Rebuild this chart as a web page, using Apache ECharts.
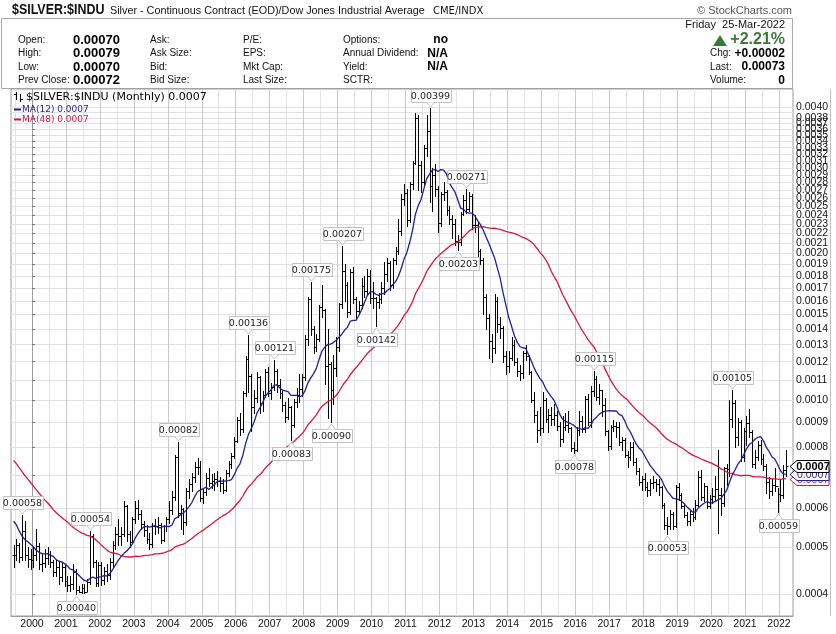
<!DOCTYPE html>
<html><head><meta charset="utf-8">
<script src="https://cdn.jsdelivr.net/npm/echarts@6/dist/echarts.min.js"></script>
<style>html,body{margin:0;padding:0;background:#fff}#c{width:836px;height:634px}</style>
</head><body><div id="c"></div>
<script>
// ---------------- DATA (ratio values in units of 0.00001) ----------------
// month index 0 = Jan 2000; first plotted bar = Jun 1999 (index -7)
const startIndex = -7;
// closes before the first plotted bar (Jul 1995 .. May 1999), only used for the moving averages
const priorCloses = [
  107, 117, 114, 111, 103, 101,
  104, 101, 98, 96, 95, 89, 92, 93, 84, 80, 74, 74,
  69, 76, 76, 67, 65, 61, 53, 59, 62, 64, 66, 75,
  77, 73, 72, 68, 58, 60, 62, 67, 69, 58, 54, 54,
  55, 60, 52, 50, 48
];
const firstOpen = 48.0;
const closes = [
  48.0, 50.5, 47.6, 54.0, 48.0, 47.2, 47.0,
  48.0, 50.1, 46.2, 46.4, 47.5, 48.3, 46.6, 44.3, 45.5, 43.3, 45.4, 42.6,
  41.8, 41.9, 44.3, 40.8, 40.3, 41.1, 40.4, 42.4, 52.6, 46.5, 42.1, 45.9,
  42.8, 44.5, 43.7, 46.5, 50.4, 53.0, 52.6, 53.1, 60.6, 53.0, 51.1, 56.9,
  60.2, 58.3, 55.7, 54.2, 52.0, 50.6, 55.2, 55.2, 55.5, 51.7, 55.2, 56.9,
  59.6, 63.3, 76.3, 58.7, 59.9, 56.1, 65.1, 67.3, 69.4, 72.8, 72.9, 63.1,
  64.8, 69.2, 67.6, 68.2, 68.8, 68.1, 67.7, 65.3, 71.0, 73.8, 76.8, 82.6,
  91.1, 87.3, 103.5, 121.4, 111.9, 96.9, 101.0, 111.6, 98.5, 102.6, 114.5, 103.5,
  106.2, 114.9, 107.7, 103.3, 97.6, 92.5, 96.9, 89.1, 99.3, 102.7, 105.4, 111.6,
  133.6, 161.4, 140.3, 128.7, 133.7, 155.1, 152.9, 117.8, 118.9, 105.1, 116.7, 128.8,
  157.5, 184.1, 172.2, 151.8, 183.5, 161.0, 152.6, 156.9, 171.9, 167.8, 179.8, 162.1,
  161.9, 158.8, 161.2, 169.9, 181.5, 191.3, 172.0, 193.7, 202.1, 222.2, 259.0, 266.9,
  234.6, 277.3, 307.6, 379.4, 304.7, 280.3, 330.2, 357.3, 275.8, 289.4, 271.5, 230.8,
  265.2, 267.1, 246.0, 235.4, 230.0, 212.7, 211.4, 241.4, 257.5, 246.6, 262.5, 228.9,
  229.4, 202.1, 194.1, 163.1, 147.5, 132.1, 127.7, 160.0, 143.4, 140.9, 123.1, 117.6,
  122.3, 129.9, 119.7, 114.6, 113.7, 124.8, 123.2, 114.0, 100.3, 93.2, 86.9, 87.5,
  100.2, 91.5, 93.4, 91.4, 93.3, 88.5, 83.1, 88.3, 89.0, 87.7, 79.6, 79.2,
  86.8, 90.8, 87.1, 100.7, 90.0, 104.3, 110.7, 101.6, 104.9, 97.6, 86.3, 80.5,
  88.1, 88.4, 88.1, 82.1, 82.8, 77.3, 76.3, 80.2, 74.5, 71.4, 68.0, 68.8,
  66.2, 65.5, 67.6, 67.9, 67.2, 66.3, 61.0, 55.5, 55.2, 58.5, 55.2, 66.4,
  64.0, 60.6, 58.2, 56.4, 58.4, 57.5, 61.0, 69.7, 63.2, 66.6, 60.6, 62.7,
  63.7, 65.7, 63.9, 61.6, 72.5, 72.1, 91.6, 98.5, 84.2, 90.2, 76.3, 86.3,
  89.7, 86.0, 74.0, 76.5, 80.8, 75.6, 73.3, 67.9, 65.0, 67.0, 66.7, 64.1,
  63.8, 72.0, 73.1
];
const highs = [
  50.5, 52, 51, 58, 56.5, 50, 49.5,
  50, 54.5, 51, 48.5, 49.5, 50, 49, 47, 47, 46.5, 46.5, 46,
  43.5, 43.5, 46, 45, 41.5, 42, 42, 43, 54, 53, 47, 46.5,
  46.5, 45.5, 46, 47.5, 51.5, 55, 57, 55, 62, 61, 54, 57.5,
  62, 62.5, 59.5, 56.5, 55.5, 53.5, 56, 57, 57.5, 56, 55.5, 57.5,
  62, 65, 77, 82, 61, 60, 66, 69, 71, 74.5, 76, 75,
  66, 71, 72.5, 70.5, 71, 71.5, 69.5, 69, 72, 75, 78, 84,
  92.5, 94, 104.5, 123, 136, 113, 105, 114, 112, 104.5, 116, 117,
  108.5, 121, 116, 110.5, 104.5, 99, 101, 97.5, 100.5, 106, 113, 113,
  136, 163, 175, 142, 137, 157, 172, 154, 140, 120, 124, 135,
  158, 207, 190, 175, 186, 188, 163, 160, 178, 180, 186, 185,
  175, 163, 166, 175, 192, 196, 193, 196, 206, 235, 265, 278,
  272, 280, 310, 388, 385, 310, 334, 385, 399, 300, 305, 275,
  268, 280, 270, 250, 240, 235, 218, 243, 264, 271, 268, 265,
  240, 232, 204, 196, 165, 150, 137, 165, 163, 148, 142, 126,
  126, 135, 133, 122, 118, 126, 130, 124, 115, 104, 95, 97,
  104, 101, 96, 97, 98, 95, 90, 93, 94, 95, 88, 82,
  88, 95, 93, 102, 103, 107, 115, 112, 108, 105, 101, 87,
  89, 91, 90, 90, 84, 83.5, 78.5, 82, 82, 76, 72.5, 70,
  71, 68, 69, 70, 69, 69, 66.5, 61.5, 57.5, 59.5, 59, 67,
  67.5, 64.5, 61.5, 59, 59.5, 60, 62.5, 71.5, 72, 67.5, 66.8, 64,
  66, 70, 79, 66, 73, 74, 100, 105, 100, 92, 91, 87.5,
  93, 96, 87, 79, 82.5, 83, 77.5, 74, 69.5, 69, 72.5, 66,
  69, 73.5, 79
];
const lows = [
  45.5, 47, 46.5, 47, 47, 45.5, 45,
  45.5, 47, 45, 44.5, 45.5, 46, 45.5, 43.5, 43.5, 42, 42.5, 41.5,
  40.5, 40.5, 41, 40.0, 40.3, 40.2, 40.1, 40.5, 42, 45.5, 41.5, 41.5,
  41.8, 42, 42.5, 43, 45.5, 49.5, 50.5, 50.5, 52.5, 51.5, 50, 51,
  56, 57, 54.5, 52.5, 51, 49.5, 50, 53, 53.5, 51, 51.5, 54,
  56, 58.5, 62.5, 57.5, 54.5, 53, 55.5, 63, 65, 68, 70.5, 62,
  61.5, 64, 66.5, 66, 65.5, 66.5, 65, 64.5, 65, 70, 72.5, 76,
  82, 85, 86, 102, 104, 86.5, 94, 99, 94, 95, 101.5, 102,
  100.5, 105, 104, 101, 95, 90, 91.5, 83, 88, 97, 99, 102,
  110, 130, 136, 125, 126, 132, 148, 108, 92, 90, 98, 112,
  126, 155, 160, 148, 150, 158, 147, 150, 155, 163, 165, 158,
  155, 142, 155, 158, 165, 176, 168, 170, 190, 200, 218, 252,
  228, 232, 272, 305, 270, 268, 276, 318, 255, 245, 262, 222,
  228, 258, 240, 230, 215, 208, 203, 208, 240, 242, 245, 225,
  222, 198, 190, 150, 140, 122, 120, 125, 138, 134, 120, 113,
  114, 121, 118, 112, 110, 111, 121, 113, 99, 90, 82, 85,
  86, 90, 86, 89, 89, 87, 80.5, 82, 87, 86, 78.5, 78,
  78.5, 85, 86, 86, 89, 88, 102, 100, 98, 93, 85, 79,
  79.5, 86.5, 84, 81, 79, 76.5, 73, 75.5, 73.5, 70.5, 67, 65.5,
  65.5, 63.5, 64, 66, 65, 64, 60, 54.5, 53, 54.5, 54.5, 55,
  62.5, 60, 57.5, 55.5, 55.5, 56.5, 57, 60.5, 62.5, 62, 60, 60,
  61.5, 62, 53.5, 58, 60.5, 67, 70, 88, 80, 81, 75, 75,
  81, 84, 73, 72.5, 75.5, 74, 72, 64.5, 63, 64, 65, 59,
  62, 63, 70
];
// labelled swing points: [month index, +1 = high label above, -1 = low label below]
const annotations = [
  [-4, 1], [15, -1], [20, 1], [51, 1], [76, 1], [85, 1], [91, -1], [98, 1], [105, -1],
  [109, 1], [121, -1], [140, 1], [150, -1], [153, 1], [191, -1], [198, 1], [224, -1],
  [247, 1], [263, -1]
];
const yTicks = [0.0004, 0.0005, 0.0006, 0.0007, 0.0008, 0.0009, 0.0010, 0.0011, 0.0012,
  0.0013, 0.0014, 0.0015, 0.0016, 0.0017, 0.0018, 0.0019, 0.0020, 0.0021, 0.0022, 0.0023,
  0.0024, 0.0025, 0.0026, 0.0027, 0.0028, 0.0029, 0.0030, 0.0031, 0.0032, 0.0033, 0.0034,
  0.0035, 0.0036, 0.0037, 0.0038, 0.0039, 0.0040];
const yearLabels = [2000, 2001, 2002, 2003, 2004, 2005, 2006, 2007, 2008, 2009, 2010, 2011,
  2012, 2013, 2014, 2015, 2016, 2017, 2018, 2019, 2020, 2021, 2022];
const quoteLeft = [['Open:', '0.00070'], ['High:', '0.00079'], ['Low:', '0.00070'], ['Prev Close:', '0.00072']];
const quoteCol2 = ['Ask:', 'Ask Size:', 'Bid:', 'Bid Size:'];
const quoteCol3 = ['P/E:', 'EPS:', 'Mkt Cap:', 'Last Size:'];
const quoteCol4 = [['Options:', 'no'], ['Annual Dividend:', 'N/A'], ['Yield:', 'N/A'], ['SCTR:', '']];
const quoteRight = [['Chg:', '+0.00002'], ['Last:', '0.00073'], ['Volume:', '0']];
const quoteDate = 'Friday  25-Mar-2022';
const quoteChange = '+2.21%';
const legendValue = '0.0007';

// ---------------- BUILD ----------------
const S = 1e-5;
const xs = closes.map((_, i) => startIndex + i + 0.5);
const opens = closes.map((c, i) => i === 0 ? firstOpen : closes[i - 1]);
const ohlc = closes.map((c, i) => [xs[i], opens[i] * S, highs[i] * S, lows[i] * S, c * S]);
const allCloses = priorCloses.concat(closes);
function movingAvg(n) {
  return closes.map((_, i) => {
    const end = i + priorCloses.length;
    let s = 0;
    for (let k = end - n + 1; k <= end; k++) s += allCloses[k];
    return [xs[i], s / n * S];
  });
}
const ma12 = movingAvg(12), ma48 = movingAvg(48);
const last = closes.length - 1;
const BLUE = '#1f1f9e', RED = '#dc143c', GREEN = '#3b7a34';
const SANS = '"Liberation Sans", Arial, sans-serif';
const DV = '"DejaVu Sans", Verdana, sans-serif';

const xTickVals = [];
yearLabels.forEach(y => { xTickVals.push((y - 2000) * 12 - 6); xTickVals.push((y - 2000) * 12); });
const xLabelVals = yearLabels.map(y => (y - 2000) * 12);

const annData = annotations.map(a => {
  const i = a[0] - startIndex;
  return [xs[i], (a[1] > 0 ? highs[i] : lows[i]) * S, a[1]];
});
const tagData = [
  [xs[last], ma48[last][1], 0],
  [xs[last], ma12[last][1], 1],
  [xs[last], closes[last] * S, 2]
];

function txt(x, y, text, font, fill, align) {
  return { type: 'text', x: x, y: y, silent: true,
    style: { text: text, font: font, fill: fill || '#000', align: align || 'left', textAlign: align || 'left',
      verticalAlign: 'middle', textVerticalAlign: 'middle' } };
}
const LBL = '10px ' + SANS;
const graphics = [];
// header box
graphics.push({ type: 'rect', shape: { x: 1.5, y: 18.5, width: 791, height: 70 }, style: { fill: '#fff', stroke: '#a8a8a8', lineWidth: 1 }, z: -1 });
graphics.push(Object.assign(txt(12, 10, '$SILVER:$INDU', 'bold 15px ' + SANS, '#111'), { scaleX: 0.83 }));
graphics.push(txt(110, 11, 'Silver - Continuous Contract (EOD)/Dow Jones Industrial Average', '10.8px ' + SANS, '#111'));
graphics.push(txt(433, 11, 'CME/INDX', '10px ' + DV, '#111'));
graphics.push(txt(792, 11, '\u00a9 StockCharts.com', '11px ' + SANS, '#555', 'right'));
const rowsY = [40, 53.5, 67, 80.5];
quoteLeft.forEach((q, r) => {
  graphics.push(txt(18, rowsY[r], q[0], LBL, '#111'));
  graphics.push(txt(120, rowsY[r], q[1], 'bold 13px ' + SANS, '#000', 'right'));
});
quoteCol2.forEach((q, r) => graphics.push(txt(150, rowsY[r], q, LBL, '#111')));
quoteCol3.forEach((q, r) => graphics.push(txt(243, rowsY[r], q, LBL, '#111')));
quoteCol4.forEach((q, r) => {
  graphics.push(txt(343, rowsY[r], q[0], LBL, '#111'));
  if (q[1]) graphics.push(txt(448, rowsY[r], q[1], 'bold 12px ' + SANS, '#000', 'right'));
});
graphics.push(txt(785, 25, quoteDate, '11px ' + SANS, '#111', 'right'));
graphics.push({ type: 'polygon', shape: { points: [[713, 46], [720, 35], [727, 46]] }, style: { fill: GREEN } });
graphics.push(txt(785, 40, quoteChange, 'bold 16px ' + SANS, GREEN, 'right'));
quoteRight.forEach((q, r) => {
  graphics.push(txt(710, rowsY[r + 1], q[0], LBL, '#111'));
  graphics.push(txt(785, rowsY[r + 1], q[1], 'bold 12px ' + SANS, '#000', 'right'));
});
// right frame of the price-label column
graphics.push({ type: 'line', shape: { x1: 830.5, y1: 89, x2: 830.5, y2: 616 }, style: { stroke: '#c0c0c0', lineWidth: 1 } });
// legend inside plot
graphics.push({ type: 'line', shape: { x1: 16.5, y1: 92, x2: 16.5, y2: 100 }, style: { stroke: '#000', lineWidth: 1 }, z: 20 });
graphics.push({ type: 'line', shape: { x1: 14, y1: 94.5, x2: 16.5, y2: 94.5 }, style: { stroke: '#000', lineWidth: 1 }, z: 20 });
graphics.push({ type: 'line', shape: { x1: 20.5, y1: 94, x2: 20.5, y2: 102 }, style: { stroke: '#000', lineWidth: 1 }, z: 20 });
graphics.push({ type: 'line', shape: { x1: 20.5, y1: 99.5, x2: 23, y2: 99.5 }, style: { stroke: '#000', lineWidth: 1 }, z: 20 });
graphics.push(Object.assign(txt(26, 97, '$SILVER:$INDU (Monthly) ' + legendValue, '11px ' + DV, '#000'), { z: 20 }));
graphics.push({ type: 'line', shape: { x1: 14, y1: 109.5, x2: 21, y2: 109.5 }, style: { stroke: BLUE, lineWidth: 2 }, z: 20 });
graphics.push(Object.assign(txt(22, 109.5, 'MA(12) ' + legendValue, '9px ' + DV, BLUE), { z: 20 }));
graphics.push({ type: 'line', shape: { x1: 14, y1: 119.5, x2: 21, y2: 119.5 }, style: { stroke: RED, lineWidth: 2 }, z: 20 });
graphics.push(Object.assign(txt(22, 119.5, 'MA(48) ' + legendValue, '9px ' + DV, RED), { z: 20 }));

const chart = echarts.init(document.getElementById('c'));
chart.setOption({
  animation: false,
  backgroundColor: '#fff',
  grid: { left: 11, right: 43, top: 89, bottom: 18, show: true, borderColor: '#9c9c9c', borderWidth: 1, backgroundColor: '#fff' },
  xAxis: {
    type: 'value', min: -7.42, max: 268.96,
    axisLine: { show: true, lineStyle: { color: '#9c9c9c' } },
    axisTick: { show: false, customValues: xTickVals },
    axisLabel: { customValues: xLabelVals, formatter: v => String(2000 + Math.round(v / 12)), color: '#111', fontSize: 10.5, fontFamily: SANS, margin: 3,
      showMinLabel: true, showMaxLabel: true },
    splitLine: { show: true, lineStyle: { color: ['#e4e4e4', '#c9c9c9'], width: 1 } }
  },
  yAxis: {
    type: 'log', logBase: 10, position: 'right', min: 0.0003605, max: 0.004355,
    axisLine: { show: true, lineStyle: { color: '#9c9c9c' } },
    axisTick: { show: true, customValues: yTicks, length: 3, lineStyle: { color: '#777' } },
    axisLabel: { customValues: yTicks, formatter: v => Number(v).toFixed(4), color: '#111', fontSize: 10.5, fontFamily: SANS, margin: 3,
      showMinLabel: true, showMaxLabel: true },
    splitLine: { show: true, lineStyle: { color: '#e2e2e2', width: 1 } }
  },
  graphic: { elements: graphics },
  series: [
    {
      type: 'custom', name: 'ohlc', data: ohlc, encode: { x: 0, y: [1, 2, 3, 4] },
      renderItem: function (params, api) {
        const x = api.value(0);
        const pH = api.coord([x, api.value(2)]), pL = api.coord([x, api.value(3)]);
        const pO = api.coord([x, api.value(1)]), pC = api.coord([x, api.value(4)]);
        const cx = Math.round(pH[0]) + 0.5;
        const yo = Math.round(pO[1]) + 0.5, yc = Math.round(pC[1]) + 0.5;
        const st = { stroke: '#000', lineWidth: 1 };
        return { type: 'group', children: [
          { type: 'line', shape: { x1: cx, y1: Math.round(pH[1]), x2: cx, y2: Math.round(pL[1]) + 1 }, style: st },
          { type: 'line', shape: { x1: cx - 2, y1: yo, x2: cx, y2: yo }, style: st },
          { type: 'line', shape: { x1: cx, y1: yc, x2: cx + 2, y2: yc }, style: st }
        ] };
      }
    },
    { type: 'line', name: 'MA(48)', data: ma48, symbol: 'none', lineStyle: { color: RED, width: 1.3 }, itemStyle: { color: RED }, z: 3 },
    { type: 'line', name: 'MA(12)', data: ma12, symbol: 'none', lineStyle: { color: BLUE, width: 1.3 }, itemStyle: { color: BLUE }, z: 4 },
    {
      type: 'custom', name: 'tags', data: tagData, z: 10, clip: false,
      renderItem: function (params, api) {
        const p = api.coord([api.value(0), api.value(1)]);
        const kind = api.value(2);
        const x0 = params.coordSys.x + params.coordSys.width;
        const y = Math.round(p[1]) + 0.5;
        const col = kind === 2 ? '#000' : (kind === 1 ? BLUE : RED);
        return { type: 'group', children: [
          { type: 'polygon', shape: { points: [[x0 - 3, y], [x0 + 4, y - 6], [x0 + 36, y - 6], [x0 + 36, y + 6], [x0 + 4, y + 6]] },
            style: { fill: '#fff', stroke: col, lineWidth: 1 } },
          { type: 'text', style: { text: legendValue, x: x0 + 20, y: y + 0.5, align: 'center', verticalAlign: 'middle',
            textAlign: 'center', textVerticalAlign: 'middle',
            font: (kind === 2 ? 'bold 11px ' : '10.5px ') + SANS, fill: col } }
        ] };
      }
    },
    {
      type: 'custom', name: 'labels', data: annData, z: 12, clip: false,
      renderItem: function (params, api) {
        const v = api.value(1);
        const p = api.coord([api.value(0), v]);
        const side = api.value(2);
        const w = 40, h = 13;
        const cx = Math.round(p[0]) + 0.5;
        let top, tipY, baseY;
        if (side > 0) { tipY = Math.round(p[1]) - 1; baseY = tipY - 5; top = baseY - h; }
        else { tipY = Math.round(p[1]) + 2; baseY = tipY + 5; top = baseY; }
        top = Math.round(top) + 0.5;
        const by = side > 0 ? top + h : top;
        return { type: 'group', children: [
          { type: 'rect', shape: { x: Math.round(cx - w / 2) + 0.5, y: top, width: w, height: h }, style: { fill: '#fff', stroke: '#c2c2c2', lineWidth: 1 } },
          { type: 'polygon', shape: { points: [[cx - 4, by], [cx, tipY], [cx + 4, by]] }, style: { fill: '#fff', stroke: null } },
          { type: 'polyline', shape: { points: [[cx - 4, by], [cx, tipY], [cx + 4, by]] }, style: { fill: null, stroke: '#c2c2c2', lineWidth: 1 } },
          { type: 'text', style: { text: v.toFixed(5), x: cx, y: top + h / 2 + 0.5, align: 'center', verticalAlign: 'middle',
            textAlign: 'center', textVerticalAlign: 'middle', font: '9.5px ' + DV, fill: '#222' } }
        ] };
      }
    }
  ]
});
</script>
</body></html>
